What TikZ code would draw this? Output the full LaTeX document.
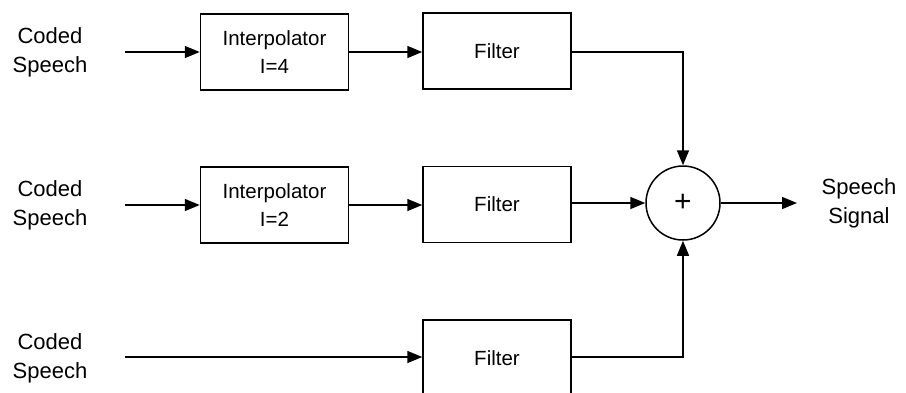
\documentclass[tikz,border=0pt]{standalone}
\usepackage{fontspec}
\setmainfont{Liberation Sans}
\usetikzlibrary{arrows.meta}
\begin{document}
\begin{tikzpicture}[x=1pt,y=-1pt,
  blk/.style={draw,line width=1.5pt,minimum width=148pt,minimum height=76pt,inner sep=0pt,align=center,font=\fontsize{20.5}{28}\selectfont},
  lbl/.style={align=center,inner sep=0pt,font=\fontsize{22}{29}\selectfont},
  sumnode/.style={draw,circle,line width=1.5pt,minimum size=74pt,inner sep=0pt,font=\fontsize{30}{30}\selectfont},
  arr/.style={line width=1.5pt,-{Triangle[length=15pt,width=12pt]}}]
\clip (0,0) rectangle (906,392);
\fill[white] (0,0) rectangle (906,392);
% labels
\node[lbl] (l1) at (50,52) {Coded\\Speech};
\node[lbl] (l2) at (50,205) {Coded\\Speech};
\node[lbl] (l3) at (50,358) {Coded\\Speech};
\node[lbl] (lo) at (859,203) {Speech\\Signal};
% input points
\coordinate (i1) at (125,52);
\coordinate (i2) at (125,205);
\coordinate (i3) at (125,357);
\coordinate (o) at (797,203);
% blocks
\node[blk] (int1) at (274.5,52) {Interpolator\\I=4};
\node[blk] (int2) at (274.5,205) {Interpolator\\I=2};
\node[blk] (f1) at (497,51) {Filter};
\node[blk] (f2) at (497,204.5) {Filter};
\node[blk] (f3) at (497,358) {Filter};
\node[sumnode] (s) at (683,203) {+};
% connectors
\draw[arr] (i1) -- (int1);
\draw[arr] (i2) -- (int2);
\draw[arr] (i3) -- (f3.west |- i3);
\draw[arr] (int1) -- (f1.west |- int1);
\draw[arr] (int2) -- (f2.west |- int2);
\draw[arr] (f1.east |- int1) -| (s.north);
\draw[arr] (f2.east |- s) -- (s.west);
\draw[arr] (f3.east |- i3) -| (s.south);
\draw[arr] (s.east) -- (o);
\end{tikzpicture}
\end{document}
